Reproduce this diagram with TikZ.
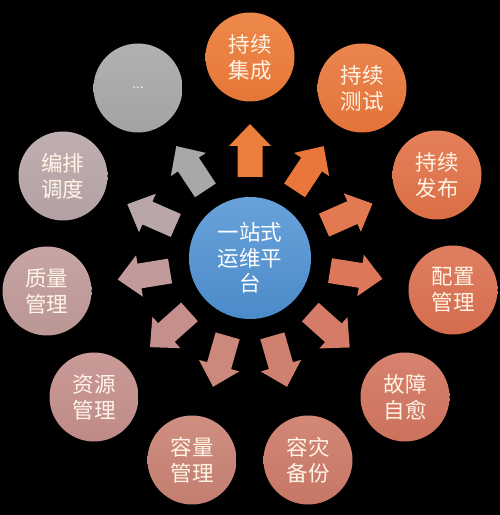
\documentclass[tikz,border=0pt]{standalone}
\usepackage{fontspec}
\usetikzlibrary{calc}
\newfontfamily\cjk{Noto Sans CJK SC}
\newfontfamily\latinsans{Liberation Sans}
\definecolor{cA}{HTML}{EC7B38}
\definecolor{cB}{HTML}{E9773C}
\definecolor{cC}{HTML}{E27248}
\definecolor{cD}{HTML}{DB7050}
\definecolor{cE}{HTML}{D2755F}
\definecolor{cF}{HTML}{CD7A68}
\definecolor{cG}{HTML}{C98273}
\definecolor{cH}{HTML}{C48F8C}
\definecolor{cI}{HTML}{C09B99}
\definecolor{cJ}{HTML}{B8A6A8}
\definecolor{cK}{HTML}{A8A8A8}
\definecolor{txt}{HTML}{FFF4E6}
\definecolor{hub}{HTML}{4F92D4}
\tikzset{
  bubble/.style={circle, minimum size=89pt, inner sep=0pt, align=center,
    text=txt, font=\cjk\fontsize{21.5}{26}\selectfont,
    top color=#1!90!white, bottom color=#1!97!black},
  hubcircle/.style={circle, minimum size=122pt, inner sep=0pt, align=center,
    text=white, font=\cjk\fontsize{21.5}{25.5}\selectfont,
    top color=hub!85!white, bottom color=hub!95!black},
  arrowfill/.style={fill=#1}
}
\newcommand\blockarrow[2]{%
  \coordinate (T) at ($(ctr)!81pt!(#1)$);
  \coordinate (H) at ($(ctr)!112pt!(#1)$);
  \coordinate (P) at ($(ctr)!134pt!(#1)$);
  \fill[arrowfill=#2]
    ($(T)!12.5pt!90:(P)$) -- ($(H)!12.5pt!90:(P)$) -- ($(H)!21pt!90:(P)$) --
    (P) -- ($(H)!21pt!-90:(P)$) -- ($(H)!12.5pt!-90:(P)$) --
    ($(T)!12.5pt!-90:(P)$) -- cycle;
}
\begin{document}
\begin{tikzpicture}[x=1pt,y=1pt]
\fill[black] (0,0) rectangle (500,515);
\useasboundingbox (0,0) rectangle (500,515);
\node[hubcircle] (ctr) at (250,257) {一站式\\运维平\\台};
\node[bubble=cA] (n1) at (250,458) {持续\\集成};
\node[bubble=cB] (n2) at (362,427) {持续\\测试};
\node[bubble=cC] (n3) at (437,340) {持续\\发布};
\node[bubble=cD] (n4) at (453,225) {配置\\管理};
\node[bubble=cE] (n5) at (405,118) {故障\\自愈};
\node[bubble=cF] (n6) at (308,55) {容灾\\备份};
\node[bubble=cG] (n7) at (192,55) {容量\\管理};
\node[bubble=cH] (n8) at (94,118) {资源\\管理};
\node[bubble=cI] (n9) at (47,224) {质量\\管理};
\node[bubble=cJ] (n10) at (63,339) {编排\\调度};
\node[bubble=cK, font=\latinsans\fontsize{13}{15}\selectfont, text=white] (n11) at (138,427) {...};
\blockarrow{n1}{cA!98!white}
\blockarrow{n2}{cB}
\blockarrow{n3}{cC!95!white}
\blockarrow{n4}{cD!95!white}
\blockarrow{n5}{cE!95!white}
\blockarrow{n6}{cF!95!white}
\blockarrow{n7}{cG!95!white}
\blockarrow{n8}{cH}
\blockarrow{n9}{cI}
\blockarrow{n10}{cJ}
\blockarrow{n11}{cK}
\end{tikzpicture}
\end{document}
